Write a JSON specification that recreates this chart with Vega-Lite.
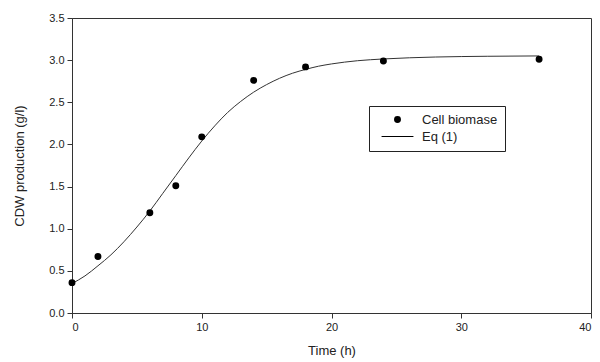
{
  "$schema": "https://vega.github.io/schema/vega-lite/v6.json",
  "width": 519,
  "height": 295,
  "autosize": {"type": "none"},
  "padding": {"left": 72, "top": 18, "right": 9, "bottom": 49},
  "background": "white",
  "config": {
    "font": "Liberation Sans",
    "view": {"stroke": "#333", "strokeWidth": 1},
    "axis": {
      "grid": false,
      "domainColor": "#333",
      "tickColor": "#333",
      "tickSize": 5,
      "labelFont": "Liberation Sans",
      "labelFontSize": 11,
      "labelColor": "#222",
      "titleFont": "Liberation Sans",
      "titleFontSize": 13,
      "titleFontWeight": "normal",
      "titleColor": "#222"
    }
  },
  "datasets": {
    "points": [
      {"t": 0, "cdw": 0.36, "series": "Cell biomase"},
      {"t": 2, "cdw": 0.67, "series": "Cell biomase"},
      {"t": 6, "cdw": 1.19, "series": "Cell biomase"},
      {"t": 8, "cdw": 1.51, "series": "Cell biomase"},
      {"t": 10, "cdw": 2.09, "series": "Cell biomase"},
      {"t": 14, "cdw": 2.76, "series": "Cell biomase"},
      {"t": 18, "cdw": 2.92, "series": "Cell biomase"},
      {"t": 24, "cdw": 2.99, "series": "Cell biomase"},
      {"t": 36, "cdw": 3.01, "series": "Cell biomase"}
    ],
    "curve": [
      {"t": 0, "cdw": 0.35},
      {"t": 1, "cdw": 0.44},
      {"t": 2, "cdw": 0.56},
      {"t": 3, "cdw": 0.69},
      {"t": 4, "cdw": 0.845},
      {"t": 5, "cdw": 1.02},
      {"t": 6, "cdw": 1.21},
      {"t": 7, "cdw": 1.42},
      {"t": 8, "cdw": 1.63},
      {"t": 9, "cdw": 1.84},
      {"t": 10, "cdw": 2.04},
      {"t": 11, "cdw": 2.22},
      {"t": 12, "cdw": 2.38},
      {"t": 13, "cdw": 2.51},
      {"t": 14, "cdw": 2.62},
      {"t": 15, "cdw": 2.71},
      {"t": 16, "cdw": 2.785},
      {"t": 17, "cdw": 2.845},
      {"t": 18, "cdw": 2.89},
      {"t": 19, "cdw": 2.928},
      {"t": 20, "cdw": 2.955},
      {"t": 22, "cdw": 2.993},
      {"t": 24, "cdw": 3.014},
      {"t": 26, "cdw": 3.028},
      {"t": 28, "cdw": 3.037},
      {"t": 32, "cdw": 3.046},
      {"t": 36, "cdw": 3.05}
    ]
  },
  "layer": [
    {
      "data": {"name": "curve"},
      "mark": {"type": "line", "color": "#333", "strokeWidth": 1, "interpolate": "monotone"},
      "encoding": {
        "x": {"field": "t", "type": "quantitative",
              "scale": {"domain": [0, 40], "nice": false},
              "axis": {"values": [0, 10, 20, 30, 40], "title": "Time (h)", "titlePadding": 12, "labelPadding": 3}},
        "y": {"field": "cdw", "type": "quantitative",
              "scale": {"domain": [0, 3.5], "nice": false},
              "axis": {"values": [0, 0.5, 1, 1.5, 2, 2.5, 3, 3.5], "format": ".1f", "title": "CDW production (g/l)", "titlePadding": 22, "labelPadding": 3}}
      }
    },
    {
      "data": {"name": "points"},
      "mark": {"type": "point", "filled": true, "color": "black", "size": 48, "opacity": 1},
      "encoding": {
        "x": {"field": "t", "type": "quantitative"},
        "y": {"field": "cdw", "type": "quantitative"},
        "shape": {
          "field": "series", "type": "nominal",
          "scale": {"domain": ["Cell biomase", "Eq (1)"], "range": ["circle", "M-4.6,-0.16L4.6,-0.16L4.6,0.16L-4.6,0.16Z"]},
          "legend": {
            "title": null,
            "orient": "none",
            "legendX": 297,
            "legendY": 88,
            "padding": 7,
            "strokeColor": "#222",
            "fillColor": "white",
            "symbolOffset": 15,
            "symbolSize": 48,
            "symbolFillColor": "black",
            "labelOffset": 18,
            "labelFont": "Liberation Sans",
            "labelFontSize": 13,
            "labelColor": "#222",
            "rowPadding": 3,
            "cornerRadius": 0
          }
        }
      }
    }
  ]
}
